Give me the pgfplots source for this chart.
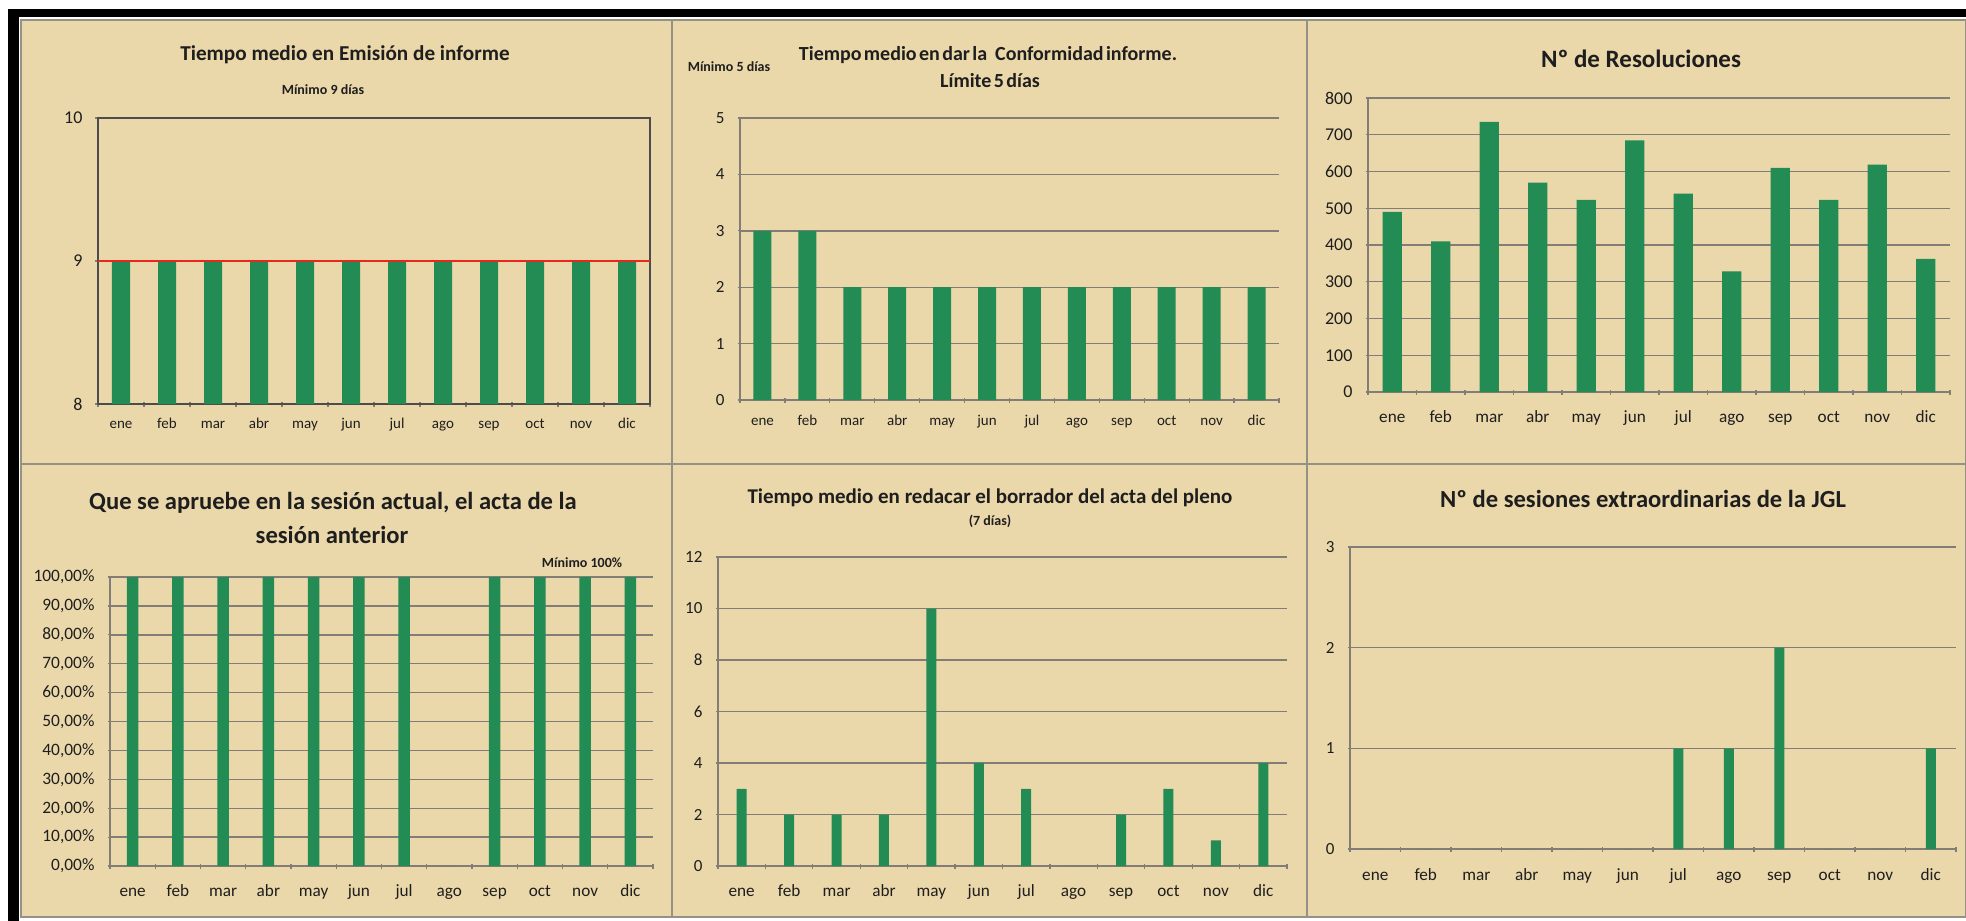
\documentclass[border=0pt]{standalone}
\usepackage{fontspec}
\setmainfont{Carlito}
\usepackage{pgfplots}
\pgfplotsset{compat=1.18}
\definecolor{beige}{RGB}{235,216,170}
\definecolor{barg}{RGB}{35,139,84}
\definecolor{gridg}{RGB}{130,125,118}
\definecolor{paneledge}{RGB}{150,145,135}
\definecolor{txt}{RGB}{30,30,30}
\definecolor{redline}{RGB}{230,40,30}
\pgfplotsset{
  excel/.style={
    scale only axis,
    xmin=-0.5, xmax=11.5,
    xtick={0,...,11},
    xticklabels={ene,feb,mar,abr,may,jun,jul,ago,sep,oct,nov,dic},
    minor xtick={-0.5,0.5,...,11.5},
    major x tick style={draw=none},
    minor x tick style={draw=gridg, line width=0.6pt},
    minor tick length=2.5pt,
    major tick length=2.5pt,
    tick align=outside,
    tick pos=left,
    axis lines=left,
    axis line style={-, draw=gridg, line width=0.7pt},
    ymajorgrids,
    grid style={draw=gridg, line width=0.7pt},
    y tick style={draw=gridg, line width=0.6pt},
    /pgf/number format/assume math mode=true,
    tick label style={text=txt},
    yticklabel style={xshift=-3pt},
  },
  xl/.style n args={3}{xticklabel style={font=\fontsize{#1}{#1}\selectfont, text height=#2, text depth=0.25em, yshift=#3}},
  gbar/.style={ybar, bar width=#1, fill=barg, draw=none},
}
\begin{document}
\begin{tikzpicture}
% background and frame
\fill[white] (0,0) rectangle (983pt,-460.5pt);
\fill[beige] (10pt,-9.5pt) rectangle (983pt,-458.5pt);
\fill[black] (4pt,-4.5pt) rectangle (983pt,-8.5pt);
\fill[black] (4pt,-4.5pt) rectangle (9.5pt,-460.5pt);
\draw[paneledge, line width=1pt] (10.5pt,-10pt) rectangle (983pt,-458.5pt);
\draw[paneledge, line width=1pt] (336pt,-10pt) -- (336pt,-458.5pt);
\draw[paneledge, line width=1pt] (653.5pt,-10pt) -- (653.5pt,-458.5pt);
\draw[paneledge, line width=1pt] (10.5pt,-232pt) -- (983pt,-232pt);

% Panel 1
\begin{axis}[excel, at={(49pt,-202pt)}, anchor=south west,
  width=276pt, height=143pt,
  ymin=8, ymax=10, ytick={8,9,10},
  ymajorgrids=false,
  axis lines=box,
  axis line style={draw=black!70, line width=0.7pt},
  yticklabel style={font=\fontsize{9}{9}\selectfont},
  xl={7.5}{5pt}{-2.3pt},
]
\addplot[gbar=9pt] coordinates {(0,9) (1,9) (2,9) (3,9) (4,9) (5,9) (6,9) (7,9) (8,9) (9,9) (10,9) (11,9)};
\addplot[redline, line width=1pt, no marks] coordinates {(-0.5,9) (11.5,9)};
\end{axis}
\node[anchor=base, font=\bfseries\fontsize{10.6}{12}\selectfont, text=txt] at (172.5pt,-30pt) {Tiempo medio en Emisión de informe};
\node[anchor=base, font=\bfseries\fontsize{7}{8}\selectfont, text=txt] at (161.5pt,-47pt) {Mínimo 9 días};

% Panel 2
\begin{axis}[excel, at={(370pt,-200pt)}, anchor=south west,
  width=269.5pt, height=141pt,
  ymin=0, ymax=5, ytick={0,1,...,5},
  yticklabel style={font=\fontsize{8.5}{8.5}\selectfont},
  xl={7.5}{5pt}{-2.8pt},
]
\addplot[gbar=9pt] coordinates {(0,3) (1,3) (2,2) (3,2) (4,2) (5,2) (6,2) (7,2) (8,2) (9,2) (10,2) (11,2)};
\end{axis}
\node[anchor=base, font=\bfseries\fontsize{7}{8}\selectfont, text=txt] at (364.5pt,-35.5pt) {Mínimo 5 días};
\node[anchor=base, font=\bfseries\fontsize{10}{12}\selectfont, text=txt] at (494pt,-30pt) {\spaceskip=0.12em Tiempo medio en dar la\hspace{0.4em}Conformidad informe.};
\node[anchor=base, font=\bfseries\fontsize{10}{12}\selectfont, text=txt] at (495pt,-43.5pt) {\spaceskip=0.12em Límite 5 días};

% Panel 3
\begin{axis}[excel, at={(684pt,-196pt)}, anchor=south west,
  width=291pt, height=147pt,
  ymin=0, ymax=800, ytick={0,100,...,800},
  yticklabel style={font=\fontsize{9}{9}\selectfont},
  xl={8.6}{5.6pt}{-4.7pt},
]
\addplot[gbar=9.7pt] coordinates {(0,490) (1,410) (2,735) (3,570) (4,523) (5,685) (6,540) (7,328) (8,610) (9,523) (10,619) (11,362)};
\end{axis}
\node[anchor=base, font=\bfseries\fontsize{12.5}{14}\selectfont, text=txt] at (820.5pt,-33.5pt) {Nº de Resoluciones};

% Panel 4
\begin{axis}[excel, at={(55pt,-433pt)}, anchor=south west,
  width=271.5pt, height=144.5pt,
  ymin=0, ymax=100, ytick={0,10,...,100},
  yticklabels={{0,00\%},{10,00\%},{20,00\%},{30,00\%},{40,00\%},{50,00\%},{60,00\%},{70,00\%},{80,00\%},{90,00\%},{100,00\%}},
  yticklabel style={font=\fontsize{8.7}{8.7}\selectfont},
  xl={8.6}{5.6pt}{-4.7pt},
]
\addplot[gbar=5.85pt] coordinates {(0,100) (1,100) (2,100) (3,100) (4,100) (5,100) (6,100) (7,0) (8,100) (9,100) (10,100) (11,100)};
\end{axis}
\node[anchor=base, font=\bfseries\fontsize{12.3}{14}\selectfont, text=txt] at (166.5pt,-254.5pt) {Que se apruebe en la sesión actual, el acta de la};
\node[anchor=base, font=\bfseries\fontsize{12.3}{14}\selectfont, text=txt] at (166pt,-271.5pt) {sesión anterior};
\node[anchor=base, font=\bfseries\fontsize{7}{8}\selectfont, text=txt] at (291pt,-283.5pt) {Mínimo 100\%};

% Panel 5
\begin{axis}[excel, at={(359pt,-433pt)}, anchor=south west,
  width=284.5pt, height=154.5pt,
  ymin=0, ymax=12, ytick={0,2,...,12},
  yticklabel style={font=\fontsize{8.5}{8.5}\selectfont},
  xl={8.6}{5.6pt}{-4.7pt},
]
\addplot[gbar=5pt] coordinates {(0,3) (1,2) (2,2) (3,2) (4,10) (5,4) (6,3) (7,0) (8,2) (9,3) (10,1) (11,4)};
\end{axis}
\node[anchor=base, font=\bfseries\fontsize{10.5}{12}\selectfont, text=txt] at (495pt,-251.5pt) {Tiempo medio en redacar el borrador del acta del pleno};
\node[anchor=base, font=\bfseries\fontsize{7}{8}\selectfont, text=txt] at (495pt,-262.5pt) {(7 días)};

% Panel 6
\begin{axis}[excel, at={(675pt,-424.5pt)}, anchor=south west,
  width=303pt, height=151pt,
  ymin=0, ymax=3, ytick={0,1,2,3},
  yticklabel style={font=\fontsize{8.5}{8.5}\selectfont},
  xl={8.6}{5.6pt}{-5.2pt},
]
\addplot[gbar=5pt] coordinates {(0,0) (1,0) (2,0) (3,0) (4,0) (5,0) (6,1) (7,1) (8,2) (9,0) (10,0) (11,1)};
\end{axis}
\node[anchor=base, font=\bfseries\fontsize{12.3}{14}\selectfont, text=txt] at (821.5pt,-253.5pt) {Nº de sesiones extraordinarias de la JGL};

\pgfresetboundingbox
\path (0,0) rectangle (983pt,-460.5pt);
\end{tikzpicture}
\end{document}
